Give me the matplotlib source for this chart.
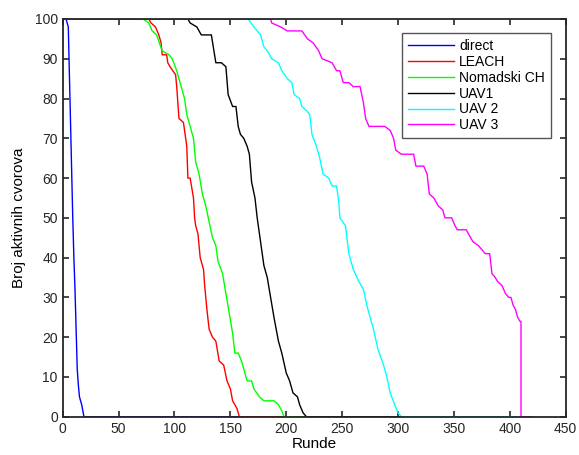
import numpy as np
import matplotlib
matplotlib.use('Agg')
import matplotlib.pyplot as plt

plt.rcParams['font.family'] = ['Liberation Sans', 'DejaVu Sans']

# broj aktivnih cvorova po rundi (ocitano sa slike)
direct_x = [0, 3, 5, 6, 7, 8, 9, 10, 11, 12, 13, 14, 15, 16, 17, 19, 420]
direct_y = [100, 100, 98, 86, 74, 62, 50, 40, 32, 22, 12, 8, 5, 4, 3, 0, 0]

leach_x = [0, 77, 79, 83, 86, 88, 89, 93, 94, 96, 101, 102, 104, 108, 111, 112, 114, 117,
           118, 119, 121, 123, 126, 127, 129, 131, 134, 137, 140, 144, 147, 150, 152, 156, 158, 420]
leach_y = [100, 100, 99, 98, 96, 94, 91, 91, 89, 88, 86, 83, 75, 74, 68, 60, 60, 55,
           50, 48, 46, 40, 37, 33, 27, 22, 20, 19, 14, 13, 9, 7, 4, 2, 0, 0]

nom_x = [0, 72, 77, 80, 84, 89, 95, 98, 102, 105, 109, 111, 114, 117, 119, 122, 125, 128, 131,
         134, 137, 139, 143, 146, 149, 152, 154, 157, 160, 165, 169, 171, 176, 180, 189, 193,
         196, 198, 420]
nom_y = [100, 100, 99, 97, 96, 92, 91, 90, 87, 84, 80, 76, 73, 70, 64, 61, 56, 53, 49,
         45, 43, 39, 36, 31, 26, 21, 16, 16, 14, 9, 9, 7, 5, 4, 4, 3,
         1.5, 0, 0]

uav1_x = [0, 112, 114, 120, 124, 133, 137, 142, 146, 148, 152, 155, 157, 159, 162, 165, 167, 169,
          172, 174, 177, 180, 183, 186, 189, 193, 196, 200, 203, 206, 210, 212, 215, 218, 420]
uav1_y = [100, 100, 99, 98, 96, 96, 89, 89, 88, 81, 78, 78, 73, 71, 70, 68, 66, 59,
          55, 50, 44, 38, 35, 30, 25, 19, 16, 11, 9, 6, 5, 3, 1, 0, 0]

uav2_x = [0, 166, 171, 177, 180, 183, 187, 193, 196, 201, 205, 207, 212, 214, 218, 221, 223, 227,
          230, 233, 238, 241, 245, 247, 248, 253, 256, 260, 265, 269, 273, 278, 282, 287, 290,
          293, 297, 300, 303, 420]
uav2_y = [100, 100, 98, 96, 93, 92, 90, 89, 87, 85, 84, 81, 80, 78, 77, 76, 71, 68,
          65, 61, 60, 58, 58, 54, 50, 48, 41, 37, 34, 32, 27, 22, 17, 13, 10,
          6, 3, 1, 0, 0]

uav3_x = [0, 186, 187, 195, 201, 214, 219, 224, 229, 232, 241, 245, 248, 251, 256, 260, 266, 269,
          271, 274, 288, 293, 296, 298, 303, 314, 316, 323, 326, 328, 332, 336, 340, 342, 348,
          351, 353, 361, 365, 367, 372, 375, 378, 382, 384, 387, 389, 393, 396, 399, 401, 403,
          405, 407, 409, 410, 410, 420]
uav3_y = [100, 100, 99, 98, 97, 97, 95, 94, 92, 90, 89, 87, 87, 84, 84, 83, 83, 79,
          75, 73, 73, 72, 70, 67, 66, 66, 63, 63, 61, 56, 55, 53, 52, 50, 50,
          48, 47, 47, 45, 44, 43, 42, 41, 41, 36, 35, 34, 33, 31, 30, 30, 28,
          27, 25, 24, 24, 0, 0]

series = [
    (direct_x, direct_y, '#0000ff', 'direct'),
    (leach_x, leach_y, '#ff0000', 'LEACH'),
    (nom_x, nom_y, '#00ff00', 'Nomadski CH'),
    (uav1_x, uav1_y, '#000000', 'UAV1'),
    (uav2_x, uav2_y, '#00ffff', 'UAV 2'),
    (uav3_x, uav3_y, '#ff00ff', 'UAV 3'),
]

fig = plt.figure(figsize=(5.79, 4.55), dpi=100)
ax = fig.add_axes([62.7/579, 1 - 416.7/455, 503/579, 397.7/455])

for x, y, c, lab in series:
    ax.plot(x, y, color=c, lw=1.0, label=lab)

ax.set_xlim(0, 450)
ax.set_ylim(0, 100)
ax.set_xticks(np.arange(0, 451, 50))
ax.set_yticks(np.arange(0, 101, 10))
ax.tick_params(direction='in', top=True, right=True, length=4, width=1.2,
               labelsize=10, colors='#262626')
for s in ax.spines.values():
    s.set_linewidth(1.3)
    s.set_color('#262626')

ax.set_xlabel('Runde', fontsize=11, labelpad=1)
ax.set_ylabel('Broj aktivnih cvorova', fontsize=11, labelpad=6)

leg = ax.legend(loc='upper right', bbox_to_anchor=(0.971, 0.965), borderaxespad=0,
                fontsize=10, handlelength=3.3, handletextpad=0.35, labelspacing=0.13,
                borderpad=0.45, fancybox=False, framealpha=1, edgecolor='#555555')
leg.get_frame().set_linewidth(1.0)

plt.savefig('out.png', dpi=100)
